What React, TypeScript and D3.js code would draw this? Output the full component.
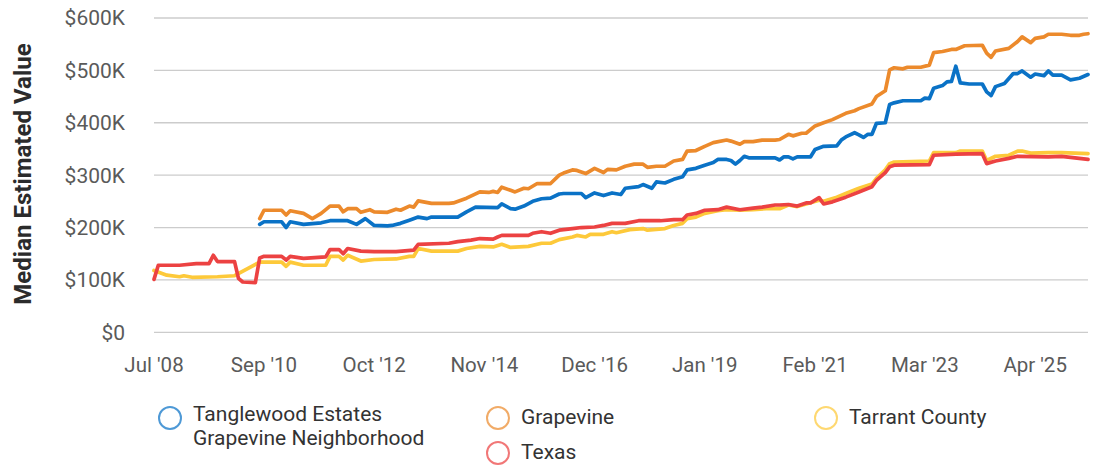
import React from "react";
import * as d3 from "d3";

// Values in thousands of dollars, keyed by month (YYYY-MM)
const tanglewood: [string, number][] = [
  ["2010-08", 206], ["2010-09", 211], ["2011-01", 211], ["2011-02", 200], ["2011-03", 211],
  ["2011-06", 206], ["2011-10", 209], ["2011-12", 213], ["2012-04", 213], ["2012-06", 206],
  ["2012-08", 217], ["2012-10", 204], ["2013-01", 203], ["2013-02", 204], ["2013-04", 208],
  ["2013-06", 214], ["2013-08", 220], ["2013-10", 217], ["2013-11", 220], ["2014-05", 220],
  ["2014-07", 230], ["2014-09", 239], ["2015-02", 238], ["2015-03", 245], ["2015-05", 236],
  ["2015-06", 235], ["2015-08", 241], ["2015-10", 250], ["2015-12", 255], ["2016-02", 256],
  ["2016-04", 264], ["2016-05", 265], ["2016-09", 265], ["2016-10", 257], ["2016-12", 266],
  ["2017-02", 261], ["2017-04", 266], ["2017-06", 263], ["2017-07", 275], ["2017-10", 278],
  ["2017-11", 282], ["2018-01", 275], ["2018-02", 287], ["2018-04", 285], ["2018-06", 292],
  ["2018-08", 297], ["2018-09", 310], ["2018-11", 313], ["2019-01", 319], ["2019-03", 324],
  ["2019-04", 330], ["2019-06", 330], ["2019-07", 328], ["2019-08", 321], ["2019-09", 328],
  ["2019-10", 336], ["2019-11", 333], ["2020-05", 333], ["2020-06", 329], ["2020-07", 335],
  ["2020-08", 335], ["2020-09", 331], ["2020-10", 335], ["2021-01", 335], ["2021-02", 349],
  ["2021-04", 355], ["2021-07", 356], ["2021-08", 367], ["2021-09", 373], ["2021-11", 381],
  ["2021-12", 377], ["2022-01", 372], ["2022-02", 378], ["2022-03", 378], ["2022-04", 399],
  ["2022-06", 400], ["2022-07", 435], ["2022-08", 438], ["2022-10", 442], ["2023-02", 442],
  ["2023-03", 447], ["2023-04", 446], ["2023-05", 466], ["2023-07", 471], ["2023-08", 478],
  ["2023-09", 479], ["2023-10", 508], ["2023-11", 476], ["2024-01", 474], ["2024-04", 474],
  ["2024-05", 459], ["2024-06", 452], ["2024-07", 469], ["2024-09", 475], ["2024-11", 494],
  ["2024-12", 494], ["2025-01", 499], ["2025-03", 487], ["2025-04", 493], ["2025-06", 490],
  ["2025-07", 499], ["2025-08", 491], ["2025-10", 491], ["2025-12", 482], ["2026-02", 485],
  ["2026-04", 492],
];

const grapevine: [string, number][] = [
  ["2010-08", 217], ["2010-09", 233], ["2011-01", 233], ["2011-02", 224], ["2011-03", 232],
  ["2011-06", 227], ["2011-08", 217], ["2011-10", 227], ["2011-12", 241], ["2012-02", 241],
  ["2012-03", 230], ["2012-04", 236], ["2012-06", 236], ["2012-07", 229], ["2012-09", 234],
  ["2012-10", 230], ["2013-01", 229], ["2013-03", 235], ["2013-04", 233], ["2013-06", 241],
  ["2013-07", 239], ["2013-08", 251], ["2013-11", 246], ["2014-03", 246], ["2014-04", 247],
  ["2014-07", 256], ["2014-10", 268], ["2014-12", 267], ["2015-01", 269], ["2015-02", 267],
  ["2015-03", 277], ["2015-05", 271], ["2015-06", 268], ["2015-08", 275], ["2015-09", 274],
  ["2015-11", 284], ["2016-02", 284], ["2016-04", 300], ["2016-05", 304], ["2016-07", 310],
  ["2016-08", 309], ["2016-10", 303], ["2016-12", 313], ["2017-02", 305], ["2017-03", 311],
  ["2017-05", 310], ["2017-07", 317], ["2017-09", 321], ["2017-11", 321], ["2017-12", 315],
  ["2018-02", 317], ["2018-04", 317], ["2018-06", 327], ["2018-08", 330], ["2018-09", 346],
  ["2018-11", 347], ["2019-01", 355], ["2019-03", 362], ["2019-06", 367], ["2019-07", 365],
  ["2019-09", 359], ["2019-10", 364], ["2019-12", 364], ["2020-02", 367], ["2020-05", 367],
  ["2020-06", 368], ["2020-08", 378], ["2020-09", 375], ["2020-11", 380], ["2020-12", 380],
  ["2021-02", 394], ["2021-04", 400], ["2021-06", 406], ["2021-09", 418], ["2021-11", 423],
  ["2021-12", 427], ["2022-03", 436], ["2022-04", 450], ["2022-06", 461], ["2022-07", 501],
  ["2022-08", 505], ["2022-10", 503], ["2022-11", 506], ["2023-02", 506], ["2023-04", 510],
  ["2023-05", 534], ["2023-07", 536], ["2023-09", 540], ["2023-10", 540], ["2023-12", 547],
  ["2024-04", 548], ["2024-05", 533], ["2024-06", 525], ["2024-07", 537], ["2024-10", 542],
  ["2024-12", 555], ["2025-01", 564], ["2025-03", 553], ["2025-04", 561], ["2025-06", 564],
  ["2025-07", 569], ["2025-10", 569], ["2025-12", 567], ["2026-02", 567], ["2026-03", 569],
  ["2026-04", 570],
];

const tarrant: [string, number][] = [
  ["2008-07", 118], ["2008-10", 109], ["2009-01", 106], ["2009-02", 108], ["2009-04", 105],
  ["2009-10", 106], ["2010-02", 108], ["2010-08", 134], ["2011-01", 134], ["2011-02", 126],
  ["2011-03", 134], ["2011-06", 128], ["2011-11", 128], ["2011-12", 145], ["2012-02", 145],
  ["2012-03", 138], ["2012-04", 147], ["2012-07", 136], ["2012-10", 139], ["2013-03", 140],
  ["2013-06", 145], ["2013-07", 145], ["2013-08", 160], ["2013-11", 155], ["2014-05", 155],
  ["2014-07", 160], ["2014-10", 164], ["2015-01", 163], ["2015-03", 168], ["2015-05", 162],
  ["2015-09", 164], ["2015-12", 170], ["2016-02", 170], ["2016-04", 177], ["2016-07", 182],
  ["2016-08", 185], ["2016-10", 182], ["2016-11", 187], ["2017-02", 187], ["2017-04", 192],
  ["2017-05", 190], ["2017-08", 196], ["2017-11", 198], ["2017-12", 195], ["2018-04", 198],
  ["2018-06", 204], ["2018-08", 208], ["2018-09", 217], ["2018-11", 220], ["2019-01", 227],
  ["2019-04", 232], ["2019-06", 234], ["2019-09", 233], ["2019-12", 234], ["2020-03", 236],
  ["2020-06", 236], ["2020-08", 243], ["2020-10", 240], ["2020-12", 245], ["2021-03", 252],
  ["2021-04", 250], ["2021-07", 258], ["2021-09", 265], ["2021-12", 275], ["2022-03", 283],
  ["2022-04", 294], ["2022-06", 310], ["2022-07", 322], ["2022-08", 325], ["2023-04", 327],
  ["2023-05", 343], ["2023-10", 343], ["2023-11", 346], ["2024-04", 346], ["2024-05", 328],
  ["2024-07", 336], ["2024-10", 338], ["2024-12", 346], ["2025-01", 346], ["2025-03", 342],
  ["2025-07", 343], ["2025-10", 343], ["2026-04", 341],
];

const texas: [string, number][] = [
  ["2008-07", 101], ["2008-08", 128], ["2009-01", 128], ["2009-05", 131], ["2009-08", 131],
  ["2009-09", 147], ["2009-10", 135], ["2010-02", 135], ["2010-03", 103], ["2010-04", 96],
  ["2010-07", 95], ["2010-08", 142], ["2010-09", 145], ["2011-01", 145], ["2011-02", 138],
  ["2011-03", 145], ["2011-06", 141], ["2011-11", 144], ["2011-12", 158], ["2012-02", 158],
  ["2012-03", 150], ["2012-04", 160], ["2012-07", 155], ["2012-10", 154], ["2013-03", 154],
  ["2013-07", 157], ["2013-08", 168], ["2014-03", 170], ["2014-05", 173], ["2014-08", 176],
  ["2014-10", 179], ["2015-01", 178], ["2015-02", 182], ["2015-03", 185], ["2015-09", 185],
  ["2015-10", 189], ["2015-12", 192], ["2016-02", 189], ["2016-04", 195], ["2016-07", 198],
  ["2016-09", 200], ["2016-12", 201], ["2017-02", 204], ["2017-04", 208], ["2017-07", 208],
  ["2017-10", 213], ["2018-03", 213], ["2018-06", 215], ["2018-08", 215], ["2018-09", 224],
  ["2018-11", 227], ["2019-01", 233], ["2019-04", 234], ["2019-06", 239], ["2019-09", 234],
  ["2019-12", 237], ["2020-02", 239], ["2020-05", 243], ["2020-06", 243], ["2020-08", 244],
  ["2020-10", 241], ["2020-12", 247], ["2021-01", 247], ["2021-03", 257], ["2021-04", 245],
  ["2021-06", 249], ["2021-09", 258], ["2021-12", 268], ["2022-03", 278], ["2022-04", 290],
  ["2022-06", 305], ["2022-07", 316], ["2022-08", 319], ["2023-04", 320], ["2023-05", 338],
  ["2023-10", 340], ["2024-04", 341], ["2024-05", 322], ["2024-07", 327], ["2024-10", 332],
  ["2024-12", 336], ["2025-07", 335], ["2025-10", 336], ["2025-12", 334], ["2026-04", 330],
];

const xTickLabels = ["2008-07", "2010-09", "2012-10", "2014-11", "2016-12", "2019-01", "2021-02", "2023-03", "2025-04"];
const yTickValues = [0, 100, 200, 300, 400, 500, 600];

const seriesNames = ["Tanglewood Estates\nGrapevine Neighborhood", "Grapevine", "Tarrant County", "Texas"];
const seriesData = [tanglewood, grapevine, tarrant, texas];
const lineColors = ["#0a72c6", "#ec8a2c", "#fdc93a", "#ec4242"];

const W = 1097;
const H = 466;
const parse = d3.timeParse("%Y-%m");
const fmt = d3.timeFormat("%b '%y");

export default function App() {
  const x = d3
    .scaleTime()
    .domain([parse("2008-07")!, parse("2010-09")!, parse("2026-04")!])
    .range([154, 264, 1088]);
  const y = d3.scaleLinear().domain([0, 600]).range([332.3, 18]);
  const line = d3
    .line<[string, number]>()
    .x((d) => x(parse(d[0])!))
    .y((d) => y(d[1]));

  const legendPos = [
    { cx: 170, cy: 418 },
    { cx: 498, cy: 418 },
    { cx: 826, cy: 418 },
    { cx: 498, cy: 453 },
  ];

  return (
    <svg
      width={W}
      height={H}
      style={{ position: "absolute", left: 0, top: 0, background: "#fff" }}
      fontFamily="Roboto, 'Noto Sans', sans-serif"
    >
      {yTickValues.map((v) => (
        <g key={v}>
          <line x1={154} x2={1088} y1={y(v)} y2={y(v)} stroke="#cccccc" strokeWidth={1.3} />
          <text x={125} y={y(v)} dy="0.35em" textAnchor="end" fontSize={21} fill="#5a5a5a">
            {v === 0 ? "$0" : `$${v}K`}
          </text>
        </g>
      ))}
      {xTickLabels.map((t) => (
        <text key={t} x={x(parse(t)!)} y={372} textAnchor="middle" fontSize={20.5} fill="#5a5a5a">
          {fmt(parse(t)!)}
        </text>
      ))}
      <text
        transform="translate(31,174) rotate(-90)"
        textAnchor="middle"
        fontSize={24}
        fontWeight="bold"
        fill="#2b2b2b"
      >
        Median Estimated Value
      </text>
      {seriesData.map((s, i) => (
        <path
          key={i}
          d={line(s) || ""}
          fill="none"
          stroke={lineColors[i]}
          strokeWidth={3.7}
          strokeLinejoin="round"
          strokeLinecap="round"
        />
      ))}
      {seriesNames.map((name, i) => {
        const p = legendPos[i];
        const lines = name.split("\n");
        const base = lines.length > 1 ? 3 : 6;
        return (
          <g key={name}>
            <circle cx={p.cx} cy={p.cy} r={11} fill="none" stroke={lineColors[i]} strokeOpacity={0.72} strokeWidth={2} />
            {lines.map((l, j) => (
              <text key={j} x={p.cx + 23} y={p.cy + base + j * 24} fontSize={21} fill="#333">
                {l}
              </text>
            ))}
          </g>
        );
      })}
    </svg>
  );
}
